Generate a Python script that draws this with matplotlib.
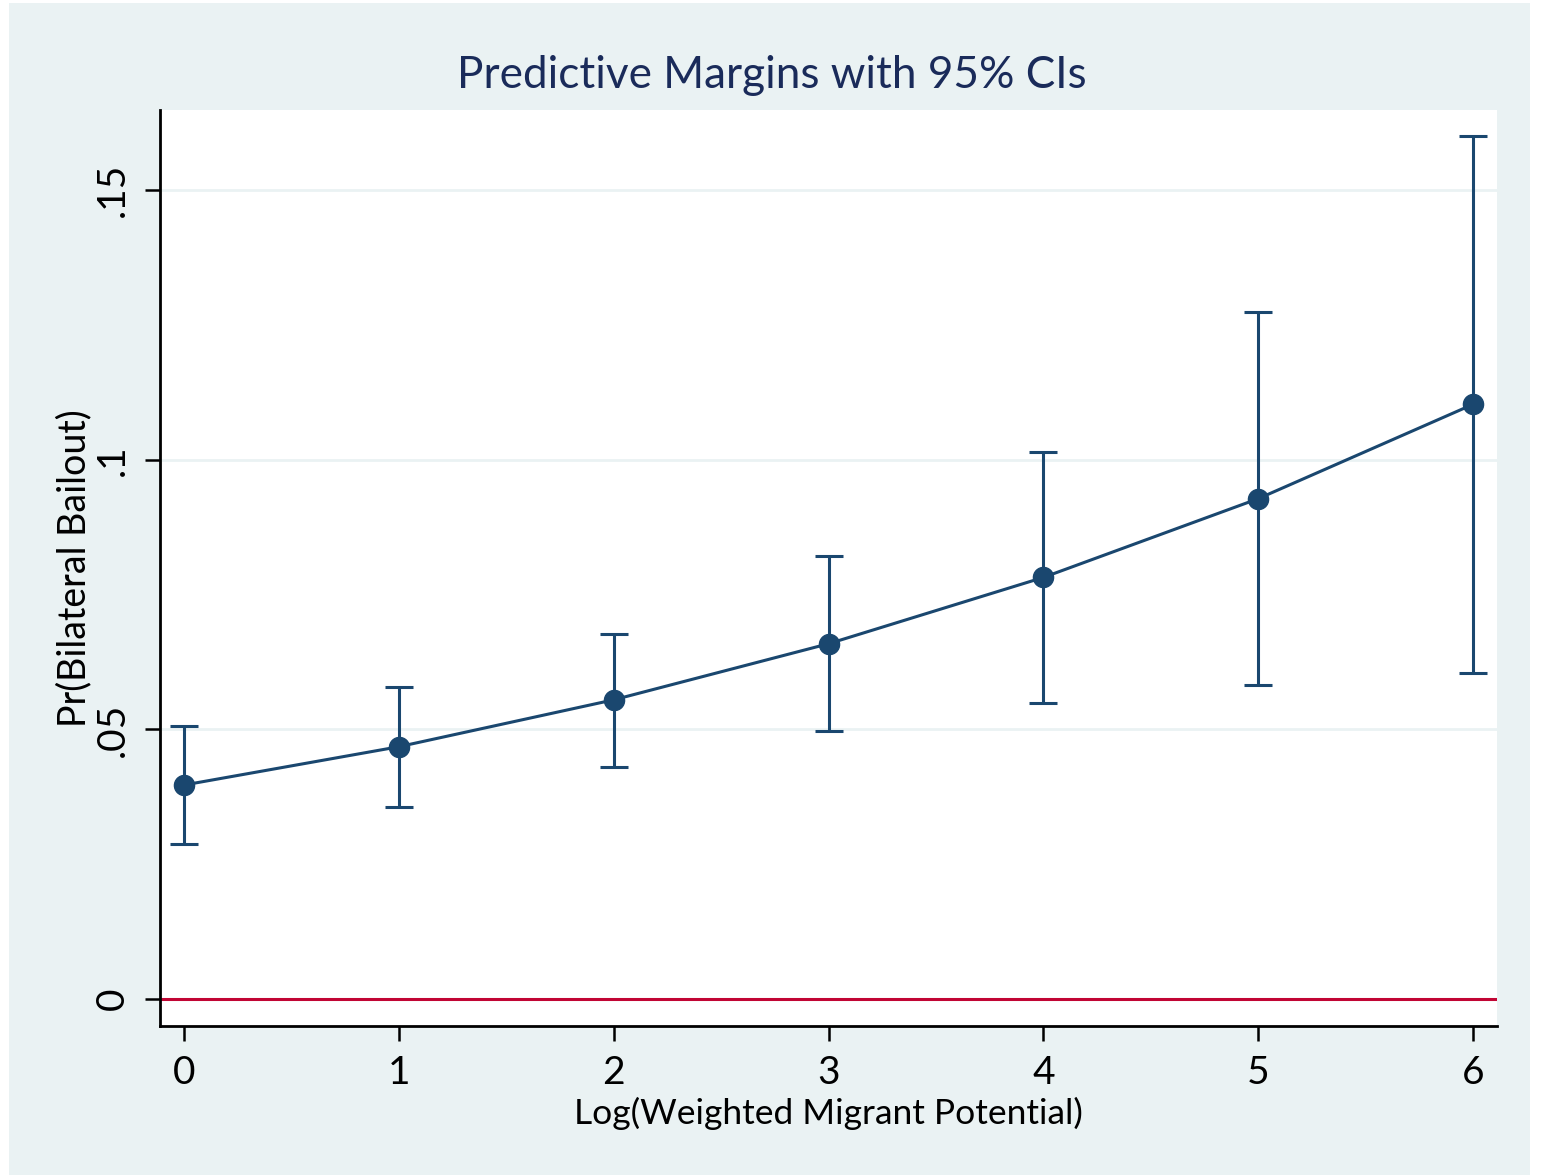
import matplotlib
matplotlib.use("Agg")
import matplotlib.pyplot as plt
from matplotlib.patches import Rectangle

# predictive margins
x_vals = [0, 1, 2, 3, 4, 5, 6]
margin = [0.0397, 0.0468, 0.0555, 0.0659, 0.0782, 0.0928, 0.1103]
ci_low = [0.0288, 0.0356, 0.0431, 0.0498, 0.0550, 0.0583, 0.0605]
ci_high = [0.0507, 0.0579, 0.0678, 0.0821, 0.1014, 0.1274, 0.1600]
y_ticks = [0, 0.05, 0.1, 0.15]
y_tick_labels = ["0", ".05", ".1", ".15"]
x_tick_labels = ["0", "1", "2", "3", "4", "5", "6"]

navy = "#1a476f"
bg = "#eaf2f3"
plt.rcParams["font.family"] = ["Lato", "DejaVu Sans"]

W, H = 1542, 1175
fig = plt.figure(figsize=(W / 100, H / 100), dpi=100, facecolor="white")
# light panel behind everything (white margin on the outside)
panel = Rectangle((9 / W, 0), (1530 - 9) / W, (1175 - 3) / H,
                  transform=fig.transFigure, facecolor=bg,
                  edgecolor="none", zorder=-10)
fig.patches.append(panel)

ax = fig.add_axes([160 / W, 1 - 1026 / H, (1497 - 160) / W, (1026 - 110) / H])
ax.set_zorder(1)
ax.set_facecolor("white")

err_lo = [m - l for m, l in zip(margin, ci_low)]
err_hi = [h - m for m, h in zip(margin, ci_high)]
ax.errorbar(x_vals, margin, yerr=[err_lo, err_hi], color=navy, lw=2.2,
            marker="o", markersize=14.5, capsize=10, capthick=2.2,
            elinewidth=2.2, zorder=3)
ax.axhline(0, color="#c10534", lw=2.2, zorder=2)

ax.set_xlim(-0.112, 6.112)
ax.set_ylim(-0.005, 0.1649)
ax.set_yticks(y_ticks)
ax.set_yticklabels(y_tick_labels, rotation=90, va="center")
ax.set_xticks(x_vals)
ax.set_xticklabels(x_tick_labels)
ax.grid(axis="y", color=bg, lw=2)
ax.set_axisbelow(True)

for side in ["top", "right"]:
    ax.spines[side].set_visible(False)
for side in ["left", "bottom"]:
    ax.spines[side].set_linewidth(2)
ax.tick_params(axis="both", length=11, width=1.8, labelsize=28, pad=10)

ax.set_xlabel("Log(Weighted Migrant Potential)", fontsize=25.5, labelpad=4)
ax.set_ylabel("Pr(Bilateral Bailout)", fontsize=27, labelpad=2)
fig.text(772 / W, 1 - 75 / H, "Predictive Margins with 95% CIs",
         fontsize=31.8, color="#1a2b5a", ha="center", va="center")

fig.savefig("out.png", dpi=100, facecolor="white")
